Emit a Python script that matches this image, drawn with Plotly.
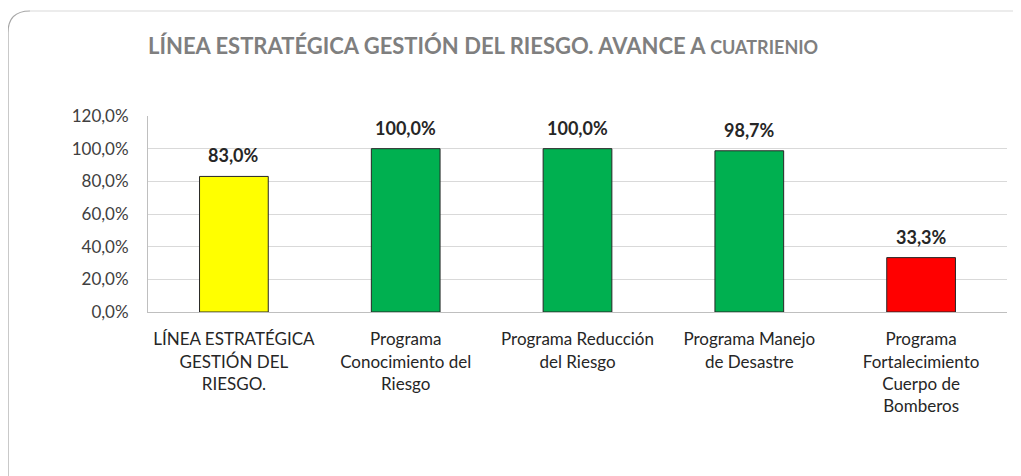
import plotly.graph_objects as go

categories = [
    "LÍNEA ESTRATÉGICA<br>GESTIÓN DEL<br>RIESGO.",
    "Programa<br>Conocimiento del<br>Riesgo",
    "Programa Reducción<br>del Riesgo",
    "Programa Manejo<br>de Desastre",
    "Programa<br>Fortalecimiento<br>Cuerpo de<br>Bomberos",
]
values = [83.0, 100.0, 100.0, 98.7, 33.3]
bar_colors = ["#FFFF00", "#00B050", "#00B050", "#00B050", "#FF0000"]
tick_vals = [0, 20, 40, 60, 80, 100, 120]
tick_text = ["0,0%", "20,0%", "40,0%", "60,0%", "80,0%", "100,0%", "120,0%"]
labels = [f"{v:.1f}%".replace(".", ",") for v in values]

FONT = "Lato"
OFF = 8  # page body margin
W, H = 1021 - OFF, 476 - OFF
L, R, T, B = 148 - OFF, 1021 - 1007, 116 - OFF, 476 - 312
pw, ph = W - L - R, H - T - B

def px(x):
    return (x - OFF - L) / pw

def py(y):
    return (H - B - (y - OFF)) / ph

fig = go.Figure()
fig.add_trace(go.Bar(
    x=categories, y=values,
    marker=dict(color=bar_colors, line=dict(color="#262626", width=1)),
    width=0.4, hoverinfo="skip",
))

for c, v, t in zip(categories, values, labels):
    fig.add_annotation(x=c, y=v, text=f"<b>{t}</b>", showarrow=False,
                       yanchor="bottom", yshift=8,
                       font=dict(family=FONT, size=18, color="#262626"))

fig.add_annotation(xref="paper", yref="paper", x=px(146), y=py(45),
                   xanchor="left", yanchor="middle", showarrow=False,
                   text="<b>LÍNEA ESTRATÉGICA GESTIÓN DEL RIESGO. AVANCE A <span style='font-size:18px'>CUATRIENIO</span></b>",
                   font=dict(family=FONT, size=22, color="#7F7F7F"))

# chart border (rounded)
r = 22
x0, y0, x1, y1 = 8, 11, 1035, 492
path_left = (f"M {px(x0)},{py(y1)} L {px(x0)},{py(y0 + r)} "
             f"Q {px(x0)},{py(y0)} {px(x0 + r)},{py(y0)}")
path_top = f"M {px(x0 + r)},{py(y0)} L {px(x1 - r)},{py(y0)} Q {px(x1)},{py(y0)} {px(x1)},{py(y0 + r)}"
fig.add_shape(type="path", xref="paper", yref="paper", path=path_left,
              line=dict(color="#A6A6A6", width=1.2))
fig.add_shape(type="path", xref="paper", yref="paper", path=path_top,
              line=dict(color="#D9D9D9", width=1))

fig.update_layout(
    width=W, height=H,
    margin=dict(l=L, r=R, t=T, b=B, pad=0),
    paper_bgcolor="white", plot_bgcolor="white",
    showlegend=False,
    font=dict(family=FONT, size=17, color="#262626"),
    xaxis=dict(showgrid=False, showline=True, linecolor="#BFBFBF", linewidth=1,
               ticks="outside", ticklen=12, tickcolor="rgba(0,0,0,0)",
               tickfont=dict(family=FONT, size=17, color="#262626"),
               fixedrange=True),
    yaxis=dict(range=[0, 120], tickvals=tick_vals, ticktext=tick_text,
               showgrid=True, gridcolor="#D9D9D9", gridwidth=1,
               showline=True, linecolor="#BFBFBF", linewidth=1,
               ticks="outside", ticklen=15, tickcolor="rgba(0,0,0,0)",
               tickfont=dict(family=FONT, size=17, color="#404040"),
               zeroline=False, fixedrange=True),
)

fig.write_html("out.html")
